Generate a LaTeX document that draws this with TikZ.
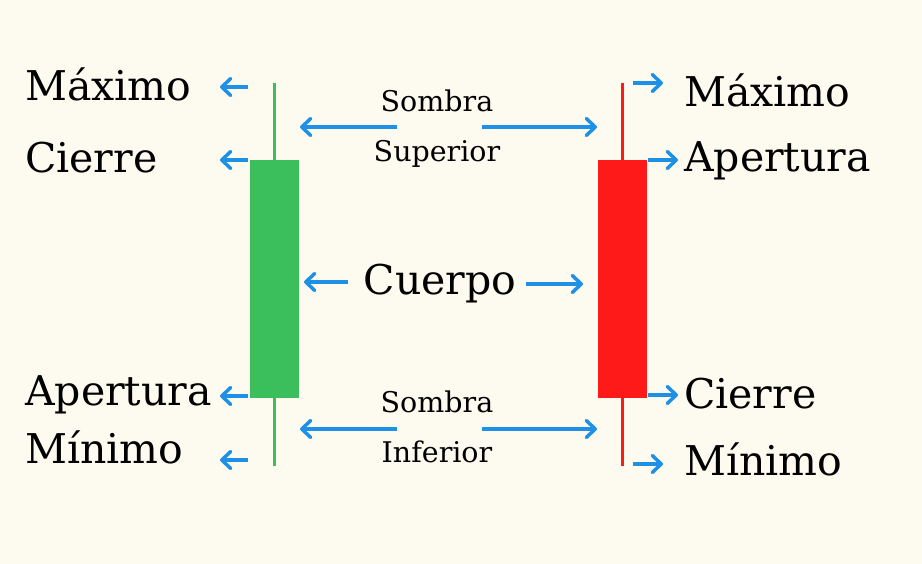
\documentclass[tikz,border=0pt]{standalone}
\usepackage{fontspec}
\setmainfont{DejaVu Serif}
\usepackage{xcolor}
\usetikzlibrary{arrows.meta,positioning}
\definecolor{bgcream}{HTML}{FDFBF0}
\definecolor{bullgreen}{HTML}{3BBF5C}
\definecolor{bearred}{HTML}{FF1A1A}
\definecolor{ptrblue}{HTML}{1E90E6}
\tikzset{
  bodyg/.style={rectangle,fill=bullgreen,minimum width=49pt,minimum height=238pt,inner sep=0pt},
  bodyr/.style={rectangle,fill=bearred,minimum width=49pt,minimum height=238pt,inner sep=0pt},
  wickg/.style={line width=3pt,bullgreen},
  wickr/.style={line width=3pt,bearred},
  ptr/.style={line width=3.5pt,ptrblue,-{Straight Barb[length=9pt,width=17pt,round]}},
  lab/.style={font=\fontsize{41}{44}\selectfont,inner sep=0pt,anchor=base west},
  sublab/.style={font=\fontsize{28.5}{30}\selectfont,inner sep=0pt,anchor=base}
}
\begin{document}
\begin{tikzpicture}[x=1pt,y=-1pt]
  \fill[bgcream] (0,0) rectangle (922,564);
  \useasboundingbox (0,0) rectangle (922,564);

  % green candle
  \node[bodyg] (gbody) at (274,279) {};
  \coordinate (gtop) at (274,83);
  \coordinate (gbot) at (274,466);
  \draw[wickg] (gtop)--(gbody.north);
  \draw[wickg] (gbody.south)--(gbot);

  % red candle
  \node[bodyr] (rbody) at (622,279) {};
  \coordinate (rtop) at (622,83);
  \coordinate (rbot) at (622,466);
  \draw[wickr] (rtop)--(rbody.north);
  \draw[wickr] (rbody.south)--(rbot);

  % left labels
  \node[lab] (lmax) at (25,101) {Máximo};
  \node[lab] (lcie) at (25,173) {Cierre};
  \node[lab] (lape) at (25,405) {Apertura};
  \node[lab] (lmin) at (25,463) {Mínimo};
  \coordinate (lmaxs) at (248,87);  \coordinate (lmaxt) at (220,87);
  \coordinate (lcies) at (248,160); \coordinate (lciet) at (220,160);
  \coordinate (lapes) at (248,396); \coordinate (lapet) at (220,396);
  \coordinate (lmins) at (248,460); \coordinate (lmint) at (220,460);
  \draw[ptr] (lmaxs)--(lmaxt);
  \draw[ptr] (lcies)--(lciet);
  \draw[ptr] (lapes)--(lapet);
  \draw[ptr] (lmins)--(lmint);

  % right labels
  \node[lab] (rmax) at (684,107) {Máximo};
  \node[lab] (rape) at (684,172) {Apertura};
  \node[lab] (rcie) at (684,408) {Cierre};
  \node[lab] (rmin) at (684,475) {Mínimo};
  \coordinate (rmaxs) at (633,83);  \coordinate (rmaxt) at (663,83);
  \coordinate (rapes) at (648,160); \coordinate (rapet) at (678,160);
  \coordinate (rcies) at (648,395); \coordinate (rciet) at (678,395);
  \coordinate (rmins) at (633,464); \coordinate (rmint) at (663,464);
  \draw[ptr] (rmaxs)--(rmaxt);
  \draw[ptr] (rapes)--(rapet);
  \draw[ptr] (rcies)--(rciet);
  \draw[ptr] (rmins)--(rmint);

  % middle
  \node[sublab] (ssup1) at (437,112) {Sombra};
  \node[sublab] (ssup2) at (437,162) {Superior};
  \coordinate (supl) at (397,127); \coordinate (suplt) at (300,127);
  \coordinate (supr) at (482,127); \coordinate (suprt) at (597,127);
  \draw[ptr] (supl)--(suplt);
  \draw[ptr] (supr)--(suprt);

  \node[lab,anchor=base] (cuer) at (440,295) {Cuerpo};
  \coordinate (cuel) at (348,282); \coordinate (cuelt) at (304,282);
  \coordinate (cuer2) at (526,284); \coordinate (cuert) at (583,284);
  \draw[ptr] (cuel)--(cuelt);
  \draw[ptr] (cuer2)--(cuert);

  \node[sublab] (sinf1) at (437,412) {Sombra};
  \node[sublab] (sinf2) at (437,462) {Inferior};
  \coordinate (infl) at (397,429); \coordinate (inflt) at (300,429);
  \coordinate (infr) at (482,429); \coordinate (infrt) at (597,429);
  \draw[ptr] (infl)--(inflt);
  \draw[ptr] (infr)--(infrt);
\end{tikzpicture}
\end{document}
